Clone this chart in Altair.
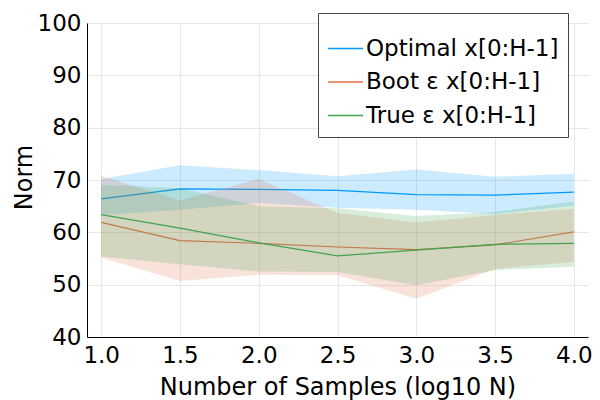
import altair as alt
import pandas as pd

x_vals = [1.0, 1.5, 2.0, 2.5, 3.0, 3.5, 4.0]
series_names = ["Optimal x[0:H-1]", "Boot ε x[0:H-1]", "True ε x[0:H-1]"]
colors = ["#009AFA", "#E36F47", "#3EA44E"]

opt_mean = [66.4, 68.3, 68.2, 68.0, 67.2, 67.1, 67.7]
opt_upper = [70.2, 72.8, 71.9, 70.7, 72.0, 70.6, 71.2]
opt_lower = [63.3, 64.3, 65.6, 64.7, 64.3, 63.5, 65.1]

boot_mean = [61.9, 58.4, 57.9, 57.2, 56.7, 57.6, 60.1]
boot_upper = [70.8, 66.1, 70.2, 63.7, 61.9, 63.3, 64.5]
boot_lower = [55.2, 50.7, 51.9, 51.8, 47.3, 53.0, 54.4]

true_mean = [63.4, 60.8, 58.0, 55.5, 56.6, 57.7, 57.9]
true_upper = [69.1, 68.4, 65.0, 64.6, 63.1, 63.9, 65.9]
true_lower = [55.4, 53.9, 52.5, 52.4, 49.9, 52.8, 53.4]

x_ticks = [1.0, 1.5, 2.0, 2.5, 3.0, 3.5, 4.0]
y_ticks = [40, 50, 60, 70, 80, 90, 100]

means = [opt_mean, boot_mean, true_mean]
uppers = [opt_upper, boot_upper, true_upper]
lowers = [opt_lower, boot_lower, true_lower]

rows = []
for name, m, u, l in zip(series_names, means, uppers, lowers):
    for xv, mv, uv, lv in zip(x_vals, m, u, l):
        rows.append({"x": xv, "series": name, "mean": mv, "hi": uv, "lo": lv})
df = pd.DataFrame(rows)

FONT = "DejaVu Sans"
W, H = 501, 314

x_enc = alt.X(
    "x:Q",
    scale=alt.Scale(domain=[0.91, 4.09], nice=False, zero=False),
    axis=alt.Axis(
        values=x_ticks, format=".1f", title="Number of Samples (log10 N)",
        labelFont=FONT, labelFontSize=23, labelColor="black", labelPadding=7,
        labelFlush=False, labelOverlap=False,
        titleFont=FONT, titleFontSize=24, titleFontWeight="normal", titleColor="black",
        titleY=57, titleBaseline="alphabetic",
        tickSize=0, domainColor="black", domainWidth=1,
        gridColor="#e6e6e6", gridWidth=1,
    ),
)
y_scale = alt.Scale(domain=[40, 100], nice=False, zero=False)
y_axis = alt.Axis(
    values=y_ticks, title="Norm",
    labelFont=FONT, labelFontSize=23, labelColor="black", labelPadding=6,
    labelOverlap=False,
    titleFont=FONT, titleFontSize=24, titleFontWeight="normal", titleColor="black",
    titleAngle=270, titleX=-56, titleY=H / 2 - 3, titleAlign="center", titleBaseline="alphabetic",
    tickSize=0, domainColor="black", domainWidth=1,
    gridColor="#e6e6e6", gridWidth=1,
)

legend = alt.Legend(
    orient="none", legendX=231, legendY=-10,
    title=" ", titleFontSize=6, titlePadding=2,
    padding=9, strokeColor="#444444", fillColor="white", cornerRadius=0,
    symbolType="stroke", symbolSize=1225, symbolStrokeWidth=1.5,
    labelFont=FONT, labelFontSize=23, labelColor="black", labelOffset=2,
    rowPadding=2.5, labelLimit=400,
)

color_enc = alt.Color(
    "series:N",
    scale=alt.Scale(domain=series_names, range=colors),
    legend=legend,
)

layers = []
for name, col in zip(series_names, colors):
    sub = alt.Chart(df).transform_filter(alt.datum.series == name)
    band = sub.mark_area(opacity=0.2, color=col).encode(
        x=x_enc,
        y=alt.Y("lo:Q", scale=y_scale, axis=y_axis),
        y2="hi:Q",
    )
    line = sub.mark_line(strokeWidth=1.2).encode(
        x=x_enc,
        y=alt.Y("mean:Q", scale=y_scale, axis=y_axis),
        color=color_enc,
    )
    layers += [band, line]

chart = alt.layer(*layers).properties(
    width=W, height=H, autosize="none",
    padding={"left": 79, "top": 15, "right": 4, "bottom": 63},
).configure_view(strokeWidth=0)

chart.save("out.html", embed_options={"renderer": "svg", "actions": False})
